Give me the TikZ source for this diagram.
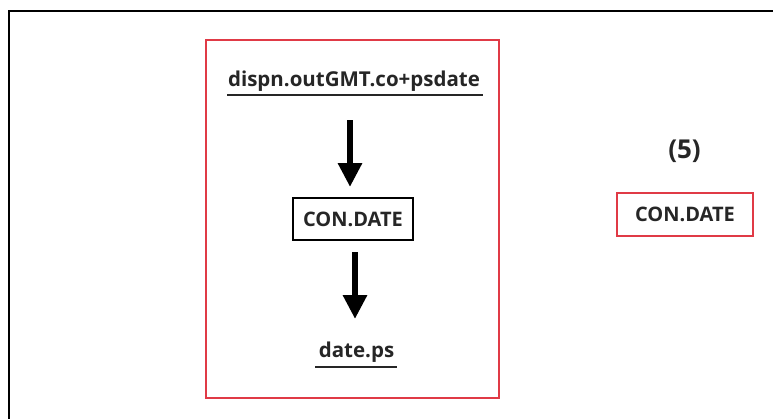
\documentclass[tikz,border=0pt]{standalone}
\usepackage{fontspec}
\setmainfont{Open Sans}
\usetikzlibrary{arrows.meta}
\definecolor{boxred}{HTML}{E03A46}
\definecolor{txt}{HTML}{262626}
\begin{document}
\begin{tikzpicture}[x=1pt,y=-1pt,
  lbl/.style={font=\bfseries\fontsize{20.5}{24}\selectfont, text=txt, inner sep=0pt},
  boxlbl/.style={font=\bfseries\fontsize{20}{24}\selectfont, text=txt, inner sep=0pt, text height=14.3pt, text depth=0pt},
  bigarrow/.style={line width=6pt, -{Triangle[width=23pt,length=24pt]}},
  redbox/.style={draw=boxred, line width=2pt},
  blackbox/.style={draw=black, line width=2pt},
  uline/.style={line width=2pt, draw=txt}]
\useasboundingbox (0,0) rectangle (773,418);
\fill[white] (0,0) rectangle (773,418);
% outer frame (cut off at right and bottom)
\draw[line width=2.4pt] (9,430) -- (9,11) -- (790,11);
% red container
\node[redbox, minimum width=293pt, minimum height=358pt, inner sep=0pt] (group) at (352.5,219) {};
% title
\node[lbl, anchor=base] (src) at (354,86) {dispn.outGMT.co+psdate};
\coordinate (u1a) at (227,95);
\coordinate (u1b) at (483,95);
\draw[uline] (u1a) -- (u1b);
% middle box
\node[boxlbl, blackbox, minimum width=120pt, minimum height=42pt] (con) at (353,219) {CON.DATE};
% output
\node[lbl, anchor=base] (out) at (356.5,357) {date.ps};
\coordinate (u2a) at (315,367);
\coordinate (u2b) at (397,367);
\draw[uline] (u2a) -- (u2b);
\coordinate (srcbot) at (350,120);
\coordinate (a1end) at (350,187);
\coordinate (a2start) at (355,252);
\coordinate (a2end) at (355,319);
\draw[bigarrow] (srcbot) -- (a1end);
\draw[bigarrow] (a2start) -- (a2end);
% right side
\node[lbl, anchor=base, font=\bfseries\fontsize{26}{30}\selectfont] (num) at (684.5,158) {(5)};
\node[boxlbl, redbox, minimum width=136pt, minimum height=43pt] (con5) at (685,214.5) {CON.DATE};
\end{tikzpicture}
\end{document}
